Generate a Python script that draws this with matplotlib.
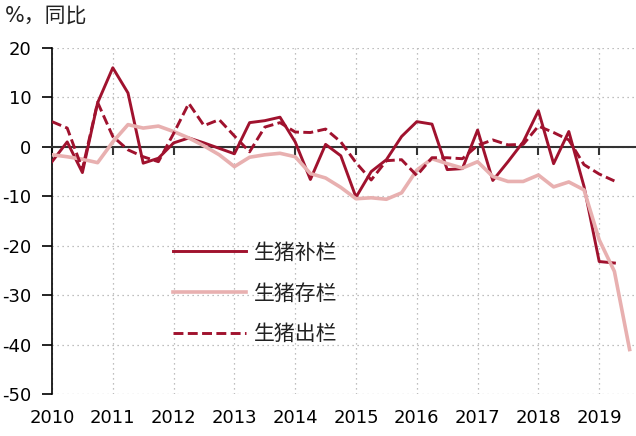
import numpy as np
import pandas as pd
import matplotlib
matplotlib.use("Agg")
import matplotlib.pyplot as plt

plt.rcParams['font.family'] = ['DejaVu Sans', 'Noto Sans CJK SC']
plt.rcParams['axes.unicode_minus'] = False

# ---- data (quarterly, YoY %) ----
labels = ['生猪补栏', '生猪存栏', '生猪出栏']
buolan = [-3.0, 1.0, -5.2, 8.9,
          16.0, 10.9, -3.3, -2.3,
          0.8, 1.8, 0.8, -0.3,
          -1.4, 4.9, 5.3, 6.0,
          1.0, -6.6, 0.5, -1.8,
          -10.2, -5.0, -2.6, 2.1,
          5.1, 4.6, -4.6, -4.4,
          3.4, -6.8, -3.0, 1.0,
          7.3, -3.4, 3.1, -8.0,
          -23.2, -23.5]
cunlan = [-1.6, -2.0, -2.5, -3.2,
          1.0, 4.5, 3.8, 4.2,
          3.1, 1.8, 0.2, -1.6,
          -4.0, -2.1, -1.6, -1.3,
          -2.0, -5.4, -6.3, -8.2,
          -10.5, -10.3, -10.6, -9.3,
          -4.7, -2.4, -3.4, -4.3,
          -3.0, -6.0, -7.0, -7.0,
          -5.7, -8.1, -7.1, -8.7,
          -18.8, -25.2, -41.0]
chulan = [5.1, 3.8, -4.5, 9.0,
          2.1, -0.6, -2.0, -3.0,
          2.7, 8.8, 4.3, 5.5,
          2.2, -1.0, 4.0, 4.9,
          3.0, 2.9, 3.6, 1.0,
          -3.2, -6.7, -2.8, -2.6,
          -5.8, -2.2, -2.2, -2.4,
          0.3, 1.4, 0.4, 0.5,
          4.2, 2.9, 1.4, -3.6,
          -5.5, -6.9]
years = list(range(2010, 2020))
yticks = [20, 10, 0, -10, -20, -30, -40, -50]


def qpos(n):
    p = pd.period_range('2010Q1', periods=n, freq='Q')
    return p.year + (p.quarter - 1) / 4.0


dark = '#A0122E'
pink = '#E8B0B0'

fig = plt.figure(figsize=(6.36, 4.36), dpi=100)
ax = fig.add_axes([52/636, 42/436, 1 - 52/636, 346/436])

ax.plot(qpos(len(buolan)), buolan, color=dark, lw=2.1, label=labels[0], zorder=3)
ax.plot(qpos(len(cunlan)), cunlan, color=pink, lw=2.6, label=labels[1], zorder=3)
ax.plot(qpos(len(chulan)), chulan, color=dark, lw=2.1, ls=(0, (3.4, 1.5)),
        label=labels[2], zorder=3)

ax.set_xlim(2010, 2010 + 584/60.8)
ax.set_ylim(-50, 20)

# grid
ax.set_yticks(yticks)
ax.set_xticks(years)
ax.grid(True, color='#ABABAB', lw=0.9, ls=(0, (1, 3)))
ax.set_axisbelow(True)

for s in ['top', 'right']:
    ax.spines[s].set_visible(False)
ax.spines['left'].set_color('black')
ax.spines['left'].set_linewidth(1.2)
ax.spines['bottom'].set_position(('data', 0))
ax.spines['bottom'].set_color('#333333')
ax.spines['bottom'].set_linewidth(1.5)

ax.tick_params(axis='y', direction='out', length=7, width=1.2, pad=8,
               labelsize=13, colors='black')
ax.tick_params(axis='x', direction='out', length=6, width=1.5,
               colors='#333333', labelbottom=False)

sec = ax.secondary_xaxis('bottom')
sec.set_xticks(years)
sec.set_xticklabels([str(y) for y in years])
sec.tick_params(length=0, pad=11, labelsize=13, colors='black')
sec.spines['bottom'].set_visible(False)

leg = ax.legend(loc='upper left', bbox_to_anchor=(0.207, 0.44), frameon=False,
                fontsize=15, handlelength=3.5, handletextpad=0.4,
                labelspacing=0.9, borderpad=0, borderaxespad=0)
for t in leg.get_texts():
    t.set_family(['Noto Sans CJK SC'])
    t.set_color('#222222')

fig.text(0.008, 0.965, '%，同比', fontsize=15, va='center', ha='left',
         family=['DejaVu Sans', 'Noto Sans CJK SC'], color='#222222')

fig.savefig('out.png', dpi=100)
